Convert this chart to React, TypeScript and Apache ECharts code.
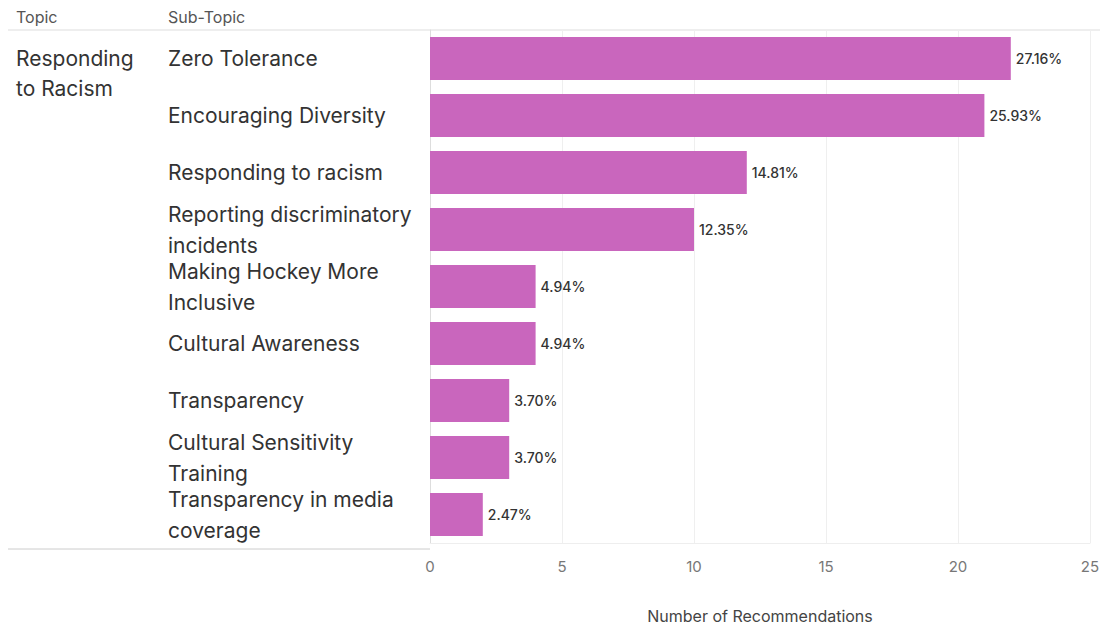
import React, { useEffect, useRef } from "react";
import * as echarts from "echarts";

const subTopics = [
  "Zero Tolerance",
  "Encouraging Diversity",
  "Responding to racism",
  "Reporting discriminatory incidents",
  "Making Hockey More Inclusive",
  "Cultural Awareness",
  "Transparency",
  "Cultural Sensitivity Training",
  "Transparency in media coverage",
];
const counts = [22, 21, 12, 10, 4, 4, 3, 3, 2];
const percentLabels = ["27.16%", "25.93%", "14.81%", "12.35%", "4.94%", "4.94%", "3.70%", "3.70%", "2.47%"];
const topicName = "Responding\nto Racism";
const xTicks = [0, 5, 10, 15, 20, 25];

const FONT = "Inter, 'Noto Sans', sans-serif";

export default function App() {
  const ref = useRef<HTMLDivElement>(null);
  useEffect(() => {
    if (!ref.current) return;
    const chart = echarts.init(ref.current, null, { renderer: "svg" });
    chart.setOption({
      animation: false,
      textStyle: { fontFamily: FONT },
      grid: { left: 430, width: 660, top: 30, height: 523, containLabel: false },
      xAxis: {
        type: "value",
        min: xTicks[0],
        max: xTicks[xTicks.length - 1],
        interval: 5,
        axisLine: { show: true, lineStyle: { color: "#eeeeee" } },
        axisTick: { show: false },
        splitLine: { show: true, lineStyle: { color: "#efefef" } },
        axisLabel: { color: "#777", fontSize: 15, margin: 16, fontFamily: FONT },
        name: "Number of Recommendations",
        nameLocation: "middle",
        nameGap: 65,
        nameTextStyle: { color: "#444", fontSize: 16, fontFamily: FONT },
      },
      yAxis: {
        type: "category",
        data: subTopics,
        inverse: true,
        axisLine: { show: true, lineStyle: { color: "#dddddd" } },
        axisTick: { show: false },
        splitLine: { show: false },
        axisLabel: {
          interval: 0,
          hideOverlap: false,
          align: "left",
          margin: 262,
          width: 252,
          overflow: "break",
          lineHeight: 31,
          color: "#333",
          fontSize: 21,
          fontFamily: FONT,
        },
      },
      series: [
        {
          type: "bar",
          data: counts,
          barWidth: 43,
          itemStyle: { color: "#C966BD" },
          label: {
            show: true,
            position: "right",
            distance: 5,
            color: "#333",
            fontSize: 14,
            fontWeight: 500,
            fontFamily: FONT,
            formatter: (p: any) => percentLabels[p.dataIndex],
          },
        },
      ],
      graphic: [
        { type: "text", left: 16, top: 9, style: { text: "Topic", fill: "#555", fontSize: 16, fontFamily: FONT } },
        { type: "text", left: 168, top: 9, style: { text: "Sub-Topic", fill: "#555", fontSize: 16, fontFamily: FONT } },
        { type: "line", shape: { x1: 8, y1: 30, x2: 1100, y2: 30 }, style: { stroke: "#dddddd", lineWidth: 1 } },
        { type: "line", shape: { x1: 8, y1: 549, x2: 430, y2: 549 }, style: { stroke: "#cccccc", lineWidth: 1 } },
        {
          type: "text",
          left: 16,
          top: 43,
          style: { text: topicName, fill: "#333", fontSize: 21, lineHeight: 30, fontFamily: FONT },
        },
      ],
    });
    return () => chart.dispose();
  }, []);
  return (
    <div
      ref={ref}
      style={{ position: "absolute", left: 0, top: 0, width: 1109, height: 629, background: "#fff" }}
    />
  );
}
